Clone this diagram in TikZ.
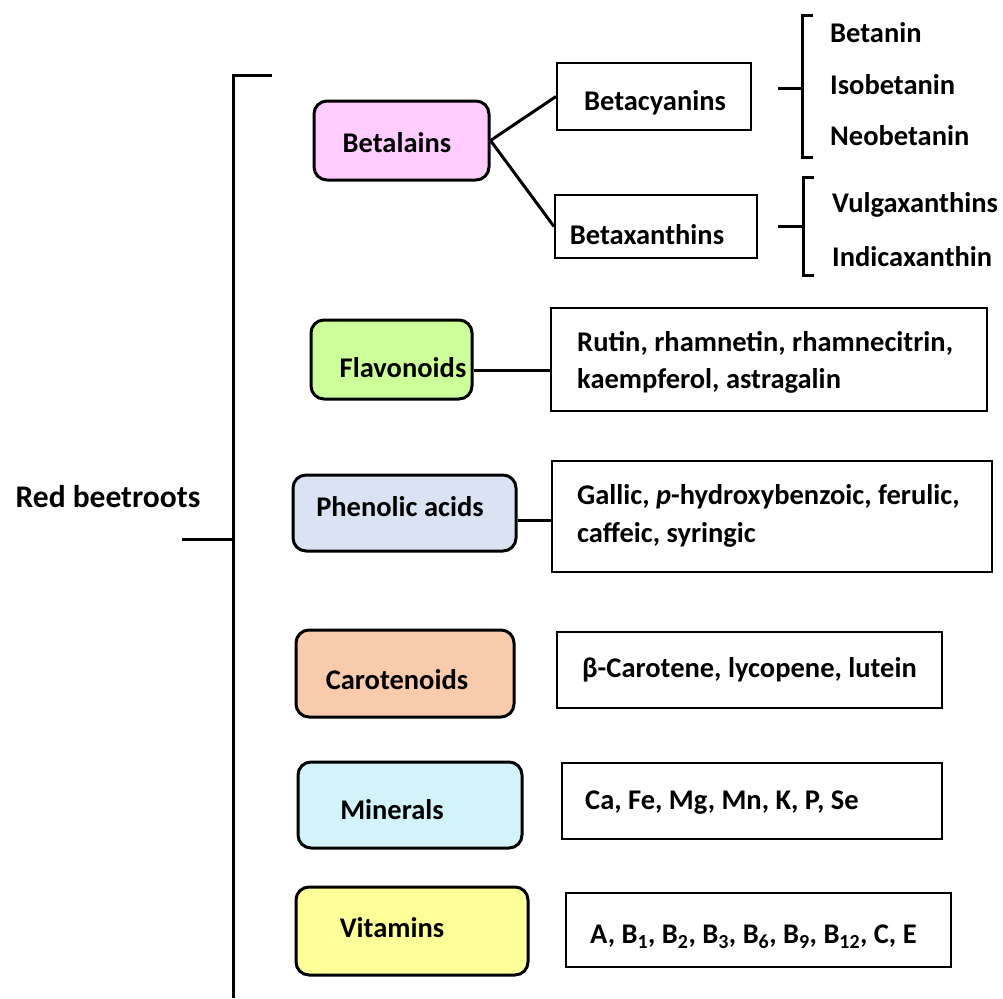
\documentclass[tikz,border=0pt]{standalone}
\usepackage{fontspec}
\setmainfont{Carlito}
\usepackage{xcolor}
\definecolor{betapink}{HTML}{FFCCFF}
\definecolor{flavgreen}{HTML}{CCFF99}
\definecolor{phenblue}{HTML}{DAE3F3}
\definecolor{carosalmon}{HTML}{F8CBAD}
\definecolor{mincyan}{HTML}{D3F3FA}
\definecolor{vityellow}{HTML}{FFFF99}

\begin{document}
\begin{tikzpicture}[x=1pt, y=-1pt,
    every node/.style={font=\fontsize{28.5}{38}\selectfont\bfseries},
    catbox/.style={draw, line width=3pt, rounded corners=13pt, inner sep=0pt},
    listbox/.style={draw, line width=2pt, inner sep=0pt},
    txt/.style={anchor=west, inner sep=0pt}]
            \useasboundingbox (0,0) rectangle (1003,998);

            % main bracket
            \draw[line width=3pt] (272,75) -- (233,75) -- (233,998);
            \draw[line width=3pt] (182,539) -- (233,539);
            \node[font=\fontsize{31.5}{38}\selectfont\bfseries] (root) at (108,497) {Red beetroots};

            % Betalains
            \node[catbox, fill=betapink, minimum width=175pt, minimum height=79pt] (betal) at (401.5,140.5) {};
            \node at (397,143) {Betalains};
            \node[listbox, minimum width=194pt, minimum height=67pt] (cyan) at (654,96.5) {};
            \node at (655,103) {Betacyanins};
            \node[listbox, minimum width=202pt, minimum height=63pt] (xan) at (656,226.5) {};
            \node at (647,235) {Betaxanthins};
            \draw[line width=3pt] (betal.east) -- (cyan.west);
            \draw[line width=3pt] (betal.east) -- (xan.west);

            % braces
            \draw[line width=3pt] (813,16) -- (802,16) -- (802,157) -- (813,157);
            \draw[line width=3pt] (778,88) -- (802,88);
            \node[txt] (bet) at (830,33) {Betanin};
            \node[txt] (isob) at (830,85) {Isobetanin};
            \node[txt] (neob) at (830,136) {Neobetanin};
            \draw[line width=3pt] (814,177) -- (803,177) -- (803,275) -- (814,275);
            \draw[line width=3pt] (778,226) -- (803,226);
            \node[txt] (vulg) at (832,205) {Vulgaxanthins};
            \node[txt] (indi) at (832,257) {Indicaxanthin};

            % Flavonoids
            \node[catbox, fill=flavgreen, minimum width=161pt, minimum height=79pt] (flav) at (391.5,359.5) {};
            \node at (403,368) {Flavonoids};
            \node[listbox, minimum width=436pt, minimum height=103pt] (flavlist) at (769,359.5) {};
            \node[txt] at (577,343) {Rutin, rhamnetin, rhamnecitrin,};
            \node[txt] at (577,381) {kaempferol, astragalin};
            \draw[line width=3pt] (flav.east |- 0,370) -- (flavlist.west |- 0,370);

            % Phenolic acids
            \node[catbox, fill=phenblue, minimum width=223pt, minimum height=76pt] (phen) at (404.5,513) {};
            \node at (400,507) {Phenolic acids};
            \node[listbox, minimum width=440pt, minimum height=111pt] (phenlist) at (772,516.5) {};
            \node[txt] at (577,497) {Gallic, \textit{p}-hydroxybenzoic, ferulic,};
            \node[txt] at (577,535) {caffeic, syringic};
            \draw[line width=3pt] (phen.east |- 0,520) -- (phenlist.west |- 0,520);

            % Carotenoids
            \node[catbox, fill=carosalmon, minimum width=218pt, minimum height=87pt] (caro) at (405,673.5) {};
            \node at (397,680) {Carotenoids};
            \node[listbox, minimum width=385pt, minimum height=76pt] (carolist) at (749.5,670) {};
            \node[txt] at (582,670) {β-Carotene, lycopene, lutein};

            % Minerals
            \node[catbox, fill=mincyan, minimum width=224pt, minimum height=86pt] (mine) at (410,805) {};
            \node at (392,810) {Minerals};
            \node[listbox, minimum width=380pt, minimum height=76pt] (minelist) at (752,801) {};
            \node[txt] at (585,803) {Ca, Fe, Mg, Mn, K, P, Se};

            % Vitamins
            \node[catbox, fill=vityellow, minimum width=232pt, minimum height=88pt] (vita) at (412,931) {};
            \node at (392,928) {Vitamins};
            \node[listbox, minimum width=385pt, minimum height=74pt] (vitalist) at (758.5,930) {};
            \node[txt] at (590,937) {A, B\textsubscript{1}, B\textsubscript{2}, B\textsubscript{3}, B\textsubscript{6}, B\textsubscript{9}, B\textsubscript{12}, C, E};
        \end{tikzpicture}
\end{document}
